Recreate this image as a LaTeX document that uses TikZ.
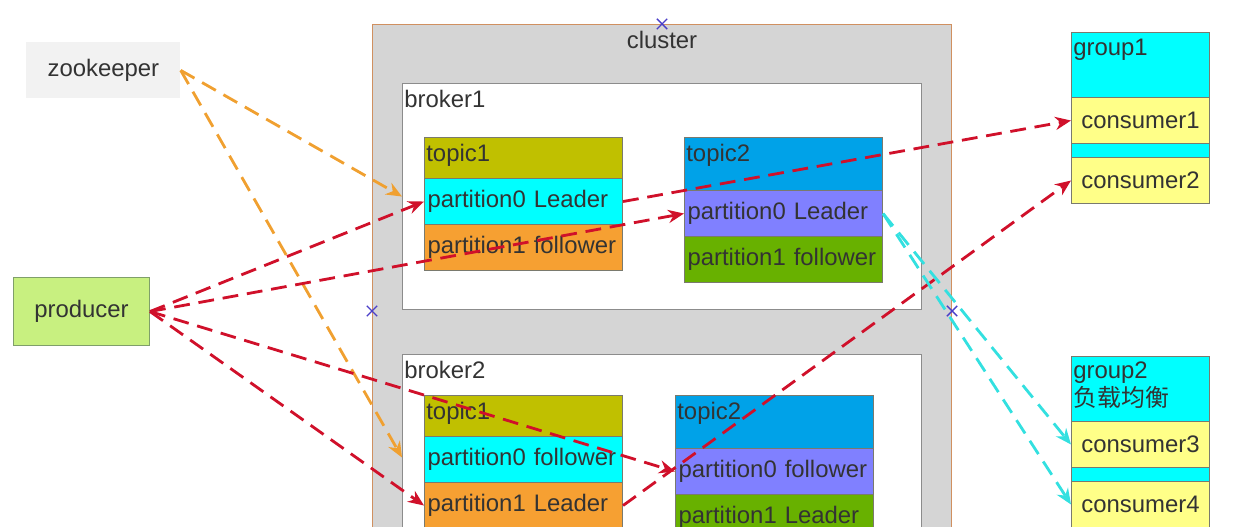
\documentclass[tikz,border=0pt]{standalone}
\usepackage{fontspec}
\setmainfont{Liberation Sans}
\newfontfamily\cjk{Noto Sans CJK SC}
\usetikzlibrary{arrows.meta,shapes.misc}
\newlength\pu \setlength\pu{0.02cm}
\definecolor{clusterfill}{HTML}{D5D5D5}
\definecolor{clusterline}{HTML}{D09060}
\definecolor{brokerline}{HTML}{8C8C8C}
\definecolor{boxline}{HTML}{7A7A6E}
\definecolor{oliveA}{HTML}{C0C000}
\definecolor{cyanA}{HTML}{00FFFF}
\definecolor{orangeA}{HTML}{F6A032}
\definecolor{blueA}{HTML}{00A2E8}
\definecolor{violetA}{HTML}{8080FF}
\definecolor{greenA}{HTML}{68B100}
\definecolor{yellowA}{HTML}{FFFF88}
\definecolor{prodfill}{HTML}{C8F080}
\definecolor{prodline}{HTML}{7F9F6A}
\definecolor{zkfill}{HTML}{F2F2F2}
\definecolor{redA}{HTML}{D0102A}
\definecolor{orangeArr}{HTML}{F0A030}
\definecolor{cyanArr}{HTML}{33E0E0}
\definecolor{txt}{HTML}{333333}
\definecolor{markblue}{HTML}{4B3FC8}
\begin{document}
\begin{tikzpicture}[x=0.02cm,y=-0.02cm,
  font=\fontsize{13.6}{16.4}\selectfont,
  box/.style={draw=boxline, line width=0.6pt, anchor=north west, inner sep=0pt, text=txt},
  part/.style={box, text width=192\pu, inner xsep=3\pu, align=left, minimum height=46\pu},
  hdr/.style={box, minimum width=198\pu, minimum height=41\pu},
  lbl/.style={anchor=north west, inner sep=2\pu, yshift=-5\pu, text=txt, align=left},
  cons/.style={box, fill=yellowA, minimum width=138\pu, minimum height=46\pu},
  conn/.style={line width=1.6pt, dash pattern=on 9pt off 5pt, -{Stealth[length=9pt,width=7.5pt]}},
  redarr/.style={conn, draw=redA},
  orarr/.style={conn, draw=orangeArr},
  cyarr/.style={conn, draw=cyanArr},
  xmark/.style={cross out, draw=markblue, minimum size=9\pu, inner sep=0pt, line width=0.8pt}]
\useasboundingbox (0,0) rectangle (1235,527);
\clip (0,0) rectangle (1235,527);

% cluster
\node[box, fill=clusterfill, draw=clusterline, minimum width=579\pu, minimum height=560\pu] (cluster) at (372,24) {};
\node[text=txt] (clusterlbl) at (662,40) {cluster};

% broker1
\node[box, fill=white, draw=brokerline, minimum width=519\pu, minimum height=226\pu,
  label={[lbl]north west:broker1}] (broker1) at (402,83) {};
\node[hdr, fill=oliveA, label={[lbl]north west:topic1}] (b1t1) at (424,137) {};
\node[part, fill=cyanA] (b1t1p0) at (424,178) {partition0 Leader};
\node[part, fill=orangeA] (b1t1p1) at (424,224) {partition1 follower};
\node[hdr, fill=blueA, minimum height=53\pu, label={[lbl]north west:topic2}] (b1t2) at (684,137) {};
\node[part, fill=violetA] (b1t2p0) at (684,190) {partition0 Leader};
\node[part, fill=greenA] (b1t2p1) at (684,236) {partition1 follower};

% broker2
\node[box, fill=white, draw=brokerline, minimum width=519\pu, minimum height=206\pu,
  label={[lbl]north west:broker2}] (broker2) at (402,354) {};
\node[hdr, fill=oliveA, label={[lbl]north west:topic1}] (b2t1) at (424,395) {};
\node[part, fill=cyanA] (b2t1p0) at (424,436) {partition0 follower};
\node[part, fill=orangeA] (b2t1p1) at (424,482) {partition1 Leader};
\node[hdr, fill=blueA, minimum height=53\pu, label={[lbl]north west:topic2}] (b2t2) at (675,395) {};
\node[part, fill=violetA] (b2t2p0) at (675,448) {partition0 follower};
\node[part, fill=greenA] (b2t2p1) at (675,494) {partition1 Leader};

% groups
\node[box, fill=cyanA, minimum width=138\pu, minimum height=171\pu,
  label={[lbl]north west:group1}] (group1) at (1071,32) {};
\node[cons] (consumer1) at (1071,97) {consumer1};
\node[cons] (consumer2) at (1071,157) {consumer2};
\node[box, fill=cyanA, minimum width=138\pu, minimum height=200\pu,
  label={[lbl, yshift=2\pu]north west:group2\\{\cjk 负载均衡}}] (group2) at (1071,356) {};
\node[cons] (consumer3) at (1071,421) {consumer3};
\node[cons] (consumer4) at (1071,481) {consumer4};

% zookeeper & producer
\node[fill=zkfill, text=txt, anchor=north west, minimum width=154\pu, minimum height=56\pu, inner sep=0pt] (zookeeper) at (26,42) {zookeeper};
\node[box, fill=prodfill, draw=prodline, minimum width=136\pu, minimum height=68\pu] (producer) at (13,277) {producer};

% connectors
\draw[orarr] (zookeeper.east) -- (broker1.west);
\draw[orarr] (zookeeper.east) -- (broker2.west);
\draw[redarr] (producer.east) -- (b1t1p0.west);
\draw[redarr] (producer.east) -- (b1t2p0.west);
\draw[redarr] (producer.east) -- (b2t2p0.west);
\draw[redarr] (producer.east) -- (b2t1p1.west);
\draw[redarr] (b1t1p0.east) -- (consumer1.west);
\draw[redarr] (b2t1p1.east) -- (consumer2.west);
\draw[cyarr] (b1t2p0.east) -- (consumer3.west);
\draw[cyarr] (b1t2p0.east) -- (consumer4.west);

% connection markers
\node[xmark] (m1) at (662,24) {};
\node[xmark] (m2) at (372,311) {};
\node[xmark] (m3) at (952,311) {};
\end{tikzpicture}
\end{document}
